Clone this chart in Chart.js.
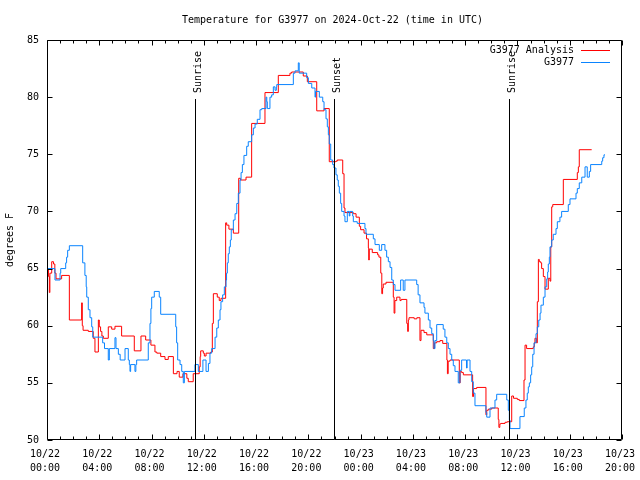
<!DOCTYPE html>
<html><head><meta charset="utf-8">
<script src="https://cdn.jsdelivr.net/npm/chart.js@4/dist/chart.umd.min.js"></script>
<style>html,body{margin:0;padding:0;background:#fff}canvas{display:block}</style>
</head><body>
<canvas id="c" width="640" height="480"></canvas>
<script>
const titleText = 'Temperature for G3977 on 2024-Oct-22 (time in UTC)';
const yAxisTitle = 'degrees F';
const seriesNames = ['G3977 Analysis', 'G3977'];
const seriesColors = ['#ff0000', '#0a84ff'];
const xTickLabels = [['10/22','00:00'],['10/22','04:00'],['10/22','08:00'],['10/22','12:00'],['10/22','16:00'],['10/22','20:00'],
                     ['10/23','00:00'],['10/23','04:00'],['10/23','08:00'],['10/23','12:00'],['10/23','16:00'],['10/23','20:00']];
const yTickValues = [50, 55, 60, 65, 70, 75, 80, 85];
const eventNames = ['Sunrise', 'Sunset', 'Sunrise'];
const eventHours = [11.35, 21.98, 35.37];

// hours since 10/22 00:00 UTC
const analysisHours = [0,0.12,0.18,0.22,0.36,0.5,0.6,0.69,1.12,1.71,2.65,2.7,2.76,3.16,3.54,3.67,3.93,4.0,4.1,4.2,4.31,4.69,4.95,5.2,5.71,6.68,7.19,7.55,7.95,8.26,8.4,8.7,9.03,9.28,9.67,9.95,10.12,10.4,10.7,10.81,11.19,11.65,11.72,11.76,11.96,12.04,12.17,12.53,12.65,12.73,13.03,13.18,13.31,13.67,13.75,13.92,14.26,14.67,14.8,15.23,15.66,16.68,17.70,18.59,18.72,19.61,19.92,20.64,21.2,21.6,22.11,22.21,22.63,22.73,22.8,23.44,23.65,23.9,24.0,24.26,24.45,24.59,24.62,24.66,24.89,25.3,25.4,25.54,25.62,25.68,25.73,25.94,26.5,26.56,26.62,26.76,27.01,27.1,27.53,27.6,27.65,27.7,28.1,28.3,28.54,28.62,28.85,29.06,29.56,29.65,29.82,30.07,30.28,30.6,30.64,30.7,30.84,31.55,31.62,31.73,31.86,32.57,32.64,32.88,33.59,33.65,33.77,34.03,34.53,34.58,34.65,34.72,35.05,35.22,35.56,35.7,35.99,36.14,36.5,36.58,36.7,37.21,37.29,37.34,37.45,37.52,37.6,37.67,37.78,37.85,37.98,38.11,38.36,38.49,38.55,38.62,38.7,39.51,40.58,40.66,40.73,41.68];
const analysisTemps = [65.0,64.3,62.9,64.6,65.6,65.4,64.6,64.1,64.4,60.5,62.0,60.0,59.6,59.5,58.9,57.7,60.5,59.9,59.5,59.1,58.9,59.9,59.7,59.95,59.1,57.8,59.1,58.75,58.3,57.7,57.6,57.3,57.05,57.3,55.8,56.0,55.5,55.8,55.4,55.1,55.8,56.4,57.3,57.8,57.6,57.35,57.6,57.7,60.2,62.8,62.5,62.2,62.4,69.0,68.8,68.45,68.1,72.9,72.75,73.0,77.7,80.4,81.9,82.1,82.2,81.85,81.35,78.8,79.0,74.35,74.4,74.5,73.3,70.3,69.9,69.8,69.5,68.7,68.4,68.1,67.6,66.8,65.75,66.7,66.4,66.2,66.0,64.6,62.8,63.3,63.65,63.8,62.5,61.1,62.2,62.5,62.2,62.3,60.2,59.5,60.5,60.7,60.6,60.7,58.7,59.6,59.4,59.2,58.0,58.5,58.6,58.7,58.45,57.0,55.8,56.9,57.0,55.0,56.0,55.9,55.7,53.8,54.5,54.6,52.2,52.6,52.7,52.8,51.8,51.1,51.4,51.45,51.55,51.6,53.85,53.65,53.55,53.45,55.25,58.3,58.0,58.15,58.5,58.9,58.5,62.1,65.8,65.6,65.5,65.0,64.3,63.2,64.15,63.9,66.9,70.4,70.6,72.8,73.4,73.9,75.4,75.4];

const obsHours = [0,0.02,0.61,1.0,1.05,1.43,1.5,1.58,1.71,2.73,2.9,3.0,3.04,3.16,3.29,3.42,3.5,4.26,4.4,4.69,4.77,5.2,5.28,5.46,5.6,5.97,6.22,6.3,6.35,6.4,6.73,6.8,6.86,7.75,7.88,7.95,8.01,8.21,8.59,8.7,9.85,9.92,10.0,10.18,10.31,10.43,10.51,11.32,11.58,11.93,12.17,12.35,12.47,12.6,12.86,12.99,13.11,13.24,13.31,13.44,13.57,13.7,13.74,13.8,13.87,13.95,14.03,14.1,14.26,14.39,14.52,14.64,14.77,14.85,14.95,15.07,15.28,15.4,15.66,15.79,15.92,16.09,16.3,16.43,16.76,16.82,16.86,17.06,17.19,17.32,17.45,17.55,17.58,18.85,18.98,19.23,19.3,19.87,20.0,20.26,20.51,20.55,20.84,21.1,21.2,21.35,21.45,21.53,21.6,21.71,21.86,21.96,22.11,22.21,22.29,22.37,22.47,22.55,22.73,22.8,22.98,23.13,23.18,23.39,23.44,23.74,24.33,24.41,24.97,25.1,25.43,25.61,25.86,25.99,26.12,26.25,26.38,26.5,26.63,27.06,27.26,27.39,28.29,28.4,28.54,28.85,28.92,29.18,29.31,29.44,29.56,29.61,29.69,29.82,30.32,30.45,30.59,30.71,30.84,30.97,31.09,31.22,31.47,31.6,31.73,32.1,32.15,32.37,32.5,32.62,32.75,33.59,33.65,33.9,34.28,34.41,35.18,35.3,35.38,35.43,36.19,36.52,36.65,36.75,36.83,36.91,37.01,37.09,37.17,37.27,37.42,37.52,37.63,37.73,37.8,37.98,38.11,38.24,38.31,38.36,38.44,38.49,38.62,38.74,38.95,39.05,39.25,39.38,39.89,40.02,40.48,40.58,40.73,40.92,41.17,41.34,41.5,41.6,42.45,42.52,42.62,42.7];
const obsTemps = [65.5,65.0,64.0,64.6,65.0,65.5,66.0,66.6,67.0,65.5,64.4,63.4,62.5,61.4,60.7,59.9,59.0,58.5,58.0,57.0,58.0,58.95,58.0,57.5,57.0,58.0,57.0,56.6,56.0,56.6,56.0,56.6,57.0,58.5,60.2,61.5,62.5,63.0,62.5,61.0,59.9,58.5,57.0,56.6,56.0,55.0,56.0,56.6,56.0,57.0,56.0,56.7,57.6,58.0,59.0,59.8,60.5,61.4,62.1,62.7,63.4,64.0,64.6,65.5,66.3,66.9,67.5,68.4,69.25,69.8,70.7,71.6,72.75,73.4,74.1,74.9,75.7,76.1,76.7,77.3,77.65,78.06,78.9,79.0,80.0,79.6,79.0,80.0,80.2,80.9,80.6,80.9,81.1,82.1,82.3,83.0,82.1,81.7,81.2,80.8,80.0,80.5,80.0,79.6,78.9,78.1,77.4,76.7,75.9,74.5,74.1,73.8,73.2,72.75,72.2,71.6,70.7,70.0,69.6,69.1,70.0,69.6,70.0,69.6,69.1,68.95,68.5,68.0,67.6,67.1,66.6,67.1,66.6,66.0,65.6,65.1,64.0,63.6,63.1,64.0,63.1,64.0,63.6,62.7,62.0,61.6,61.1,60.5,59.8,59.3,58.7,58.0,58.7,60.1,59.7,59.0,58.5,58.0,57.5,57.0,56.5,56.0,55.0,56.1,57.0,56.3,57.0,56.0,55.1,54.1,53.0,52.4,52.0,52.8,53.5,54.0,53.5,52.6,51.75,51.0,52.05,52.8,53.5,54.1,54.65,55.0,55.7,56.4,57.5,58.5,59.3,59.9,60.5,61.1,61.8,62.5,63.4,64.1,64.7,65.4,66.0,66.9,67.5,68.0,68.5,69.1,69.5,70.0,70.6,71.1,71.6,72.0,72.5,73.0,73.9,73.0,73.5,74.1,74.4,74.7,74.95,74.95];

const FONT_FAMILY = '"DejaVu Sans Mono", "Liberation Mono", monospace';
const FONT = '10px ' + FONT_FAMILY;

function pairs(xs, ys) { return xs.map((h, i) => ({ x: h, y: ys[i] })); }

const decor = {
  id: 'decor',
  afterDatasetsDraw(chart) {
    const { ctx, chartArea: a, scales: { x, y } } = chart;
    ctx.save();
    ctx.strokeStyle = '#000';
    ctx.fillStyle = '#000';
    ctx.lineWidth = 1;
    const L = Math.round(a.left) + 0.5, R = Math.round(a.right) - 0.5;
    const T = Math.round(a.top) + 0.5, B = Math.round(a.bottom) - 0.5;
    ctx.beginPath();
    ctx.moveTo(L, T); ctx.lineTo(R, T); ctx.lineTo(R, B); ctx.lineTo(L, B); ctx.closePath();
    // x ticks: hourly minor, 4-hourly major, on bottom and top
    for (let h = x.min; h <= x.max; h += 1) {
      const px = Math.round(x.getPixelForValue(h)) + 0.5;
      const len = (h % 4 === 0) ? 5 : 3;
      ctx.moveTo(px, B); ctx.lineTo(px, B - len);
      ctx.moveTo(px, T); ctx.lineTo(px, T + len);
    }
    // y ticks on left and right
    yTickValues.forEach(v => {
      const py = Math.round(y.getPixelForValue(v)) + 0.5;
      ctx.moveTo(L, py); ctx.lineTo(L + 5, py);
      ctx.moveTo(R, py); ctx.lineTo(R - 5, py);
    });
    // sunrise / sunset lines
    eventHours.forEach(h => {
      const px = Math.round(x.getPixelForValue(h)) + 0.5;
      ctx.moveTo(px, a.top + 59); ctx.lineTo(px, B);
    });
    ctx.stroke();

    ctx.font = FONT;
    eventHours.forEach((h, i) => {
      const px = Math.round(x.getPixelForValue(h));
      ctx.save();
      ctx.translate(px + 5.5, a.top + 53);
      ctx.rotate(-Math.PI / 2);
      ctx.textAlign = 'left';
      ctx.textBaseline = 'alphabetic';
      ctx.fillText(eventNames[i], 0, 0);
      ctx.restore();
    });

    // legend
    chart.data.datasets.forEach((ds, i) => {
      const ry = a.top + 10 + 12 * i;
      ctx.textAlign = 'right';
      ctx.textBaseline = 'middle';
      ctx.fillStyle = '#000';
      ctx.fillText(ds.label, a.right - 48, ry + 0.5);
      ctx.strokeStyle = ds.borderColor;
      ctx.beginPath();
      ctx.moveTo(a.right - 41, Math.round(ry) + 0.5);
      ctx.lineTo(a.right - 12, Math.round(ry) + 0.5);
      ctx.stroke();
    });

    // title
    ctx.fillStyle = '#000';
    ctx.textAlign = 'center';
    ctx.textBaseline = 'middle';
    ctx.fillText(titleText, (a.left + a.right) / 2 - 2, 20);
    ctx.restore();
  }
};

new Chart(document.getElementById('c'), {
  type: 'line',
  data: {
    datasets: [
      { label: seriesNames[0], data: pairs(analysisHours, analysisTemps), borderColor: seriesColors[0],
        borderWidth: 1, pointRadius: 0, stepped: 'before', fill: false, order: 1 },
      { label: seriesNames[1], data: pairs(obsHours, obsTemps), borderColor: seriesColors[1],
        borderWidth: 1, pointRadius: 0, stepped: 'before', fill: false, order: 0 }
    ]
  },
  options: {
    responsive: false,
    animation: false,
    devicePixelRatio: 1,
    events: [],
    layout: { padding: { top: 40, right: 18, left: 0, bottom: 0 } },
    plugins: { legend: { display: false }, tooltip: { enabled: false }, title: { display: false } },
    scales: {
      x: {
        type: 'linear', min: 0, max: 44,
        grid: { display: false, drawTicks: false }, border: { display: false },
        ticks: {
          stepSize: 4, autoSkip: false, maxRotation: 0, minRotation: 0, color: '#000',
          font: { family: FONT_FAMILY, size: 10, lineHeight: 1.4 }, padding: 7, labelOffset: -2,
          callback: (v) => xTickLabels[Math.round(v / 4)]
        },
        afterFit: (s) => { s.height = 40; s.paddingLeft = 0; s.paddingRight = 0; }
      },
      y: {
        min: 50, max: 85,
        grid: { display: false, drawTicks: false }, border: { display: false },
        ticks: { stepSize: 5, color: '#000', font: { family: FONT_FAMILY, size: 10 }, padding: 8 },
        title: { display: true, text: yAxisTitle, color: '#000', font: { family: FONT_FAMILY, size: 10 }, padding: { top: 4, bottom: 0 } },
        afterFit: (s) => { s.width = 47; s.paddingTop = 0; s.paddingBottom = 0; }
      }
    }
  },
  plugins: [decor]
});
</script>
</body></html>
